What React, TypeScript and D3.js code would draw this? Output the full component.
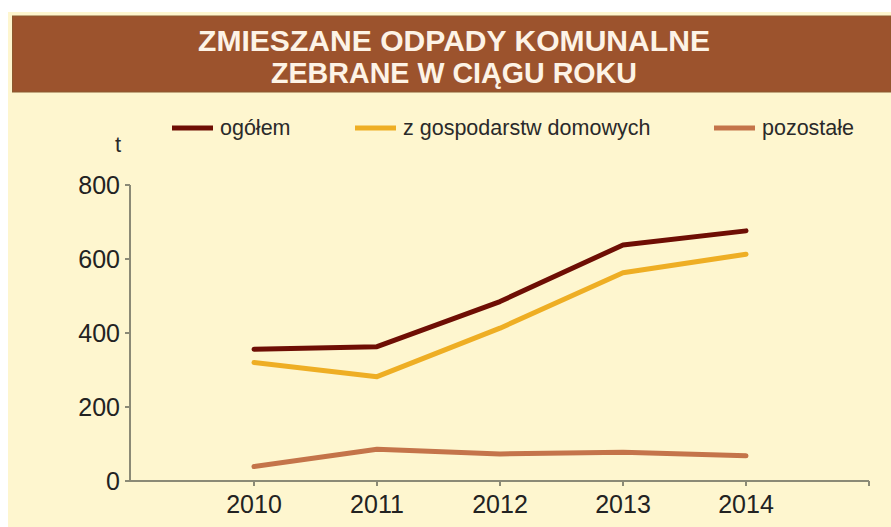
import React from "react";
import * as d3 from "d3";

const years = [2010, 2011, 2012, 2013, 2014];
const ogolem = [356, 363, 485, 638, 676];
const gospodarstwa = [320, 282, 413, 563, 613];
const pozostale = [39, 86, 73, 78, 68];
const yTicks = [0, 200, 400, 600, 800];
const seriesNames = ["ogółem", "z gospodarstw domowych", "pozostałe"];
const seriesColors = ["#6e0e04", "#eeae24", "#c4744a"];
const titleLines = ["ZMIESZANE ODPADY KOMUNALNE", "ZEBRANE W CIĄGU ROKU"];

const W = 891;
const H = 527;

export default function App() {
  const x = d3.scaleLinear().domain([2009, 2015]).range([131, 869]);
  const y = d3.scaleLinear().domain([0, 800]).range([481, 185]);
  const line = d3
    .line<number>()
    .x((_, i) => x(years[i]))
    .y((d) => y(d));
  const series = [ogolem, gospodarstwa, pozostale];
  const axisColor = "#8b8a76";
  const font = "'Liberation Sans', Arial, sans-serif";
  const legendX = [172, 355, 714];
  const titleWidths = [512, 366];

  return (
    <svg
      width={W}
      height={H}
      style={{ position: "absolute", left: 0, top: 0, display: "block" }}
      fontFamily={font}
    >
      <rect x={0} y={0} width={W} height={H} fill="#ffffff" />
      <rect x={8} y={12} width={W - 8} height={H - 12} fill="#fef6cf" />
      <rect x={12.5} y={16} width={W - 12.5} height={76} fill="#9c532d" stroke="#8a5a30" strokeWidth={1} />
      {titleLines.map((t, i) => (
        <text
          key={t}
          x={454}
          y={51 + i * 32}
          textAnchor="middle"
          fill="#fdf3e6"
          fontSize={29}
          fontWeight="bold"
          textLength={titleWidths[i]}
          lengthAdjust="spacingAndGlyphs"
        >
          {t}
        </text>
      ))}

      {seriesNames.map((n, i) => (
        <g key={n}>
          <line
            x1={legendX[i]}
            x2={legendX[i] + 41}
            y1={128}
            y2={128}
            stroke={seriesColors[i]}
            strokeWidth={5}
          />
          <text x={legendX[i] + 48} y={135} fontSize={21.5} fill="#2a2a2a">
            {n}
          </text>
        </g>
      ))}
      <text x={115} y={152} fontSize={22} fill="#2a2a2a">t</text>

      <line x1={130} x2={130} y1={185} y2={482} stroke={axisColor} strokeWidth={2} />
      <line x1={129} x2={869} y1={481} y2={481} stroke={axisColor} strokeWidth={2} />
      {yTicks.map((t) => (
        <g key={t}>
          <line x1={125} x2={130} y1={y(t)} y2={y(t)} stroke={axisColor} strokeWidth={2} />
          <text x={120} y={y(t) + 9} textAnchor="end" fontSize={25} fill="#222">
            {t}
          </text>
        </g>
      ))}
      {[...years, 2015].map((yr) => (
        <line key={yr} x1={x(yr)} x2={x(yr)} y1={481} y2={486} stroke={axisColor} strokeWidth={2} />
      ))}
      {years.map((yr) => (
        <text key={yr} x={x(yr)} y={513} textAnchor="middle" fontSize={25} fill="#222">
          {yr}
        </text>
      ))}

      {series.map((s, i) => (
        <path
          key={i}
          d={line(s) || ""}
          fill="none"
          stroke={seriesColors[i]}
          strokeWidth={5}
          strokeLinejoin="round"
          strokeLinecap="round"
        />
      ))}
    </svg>
  );
}
